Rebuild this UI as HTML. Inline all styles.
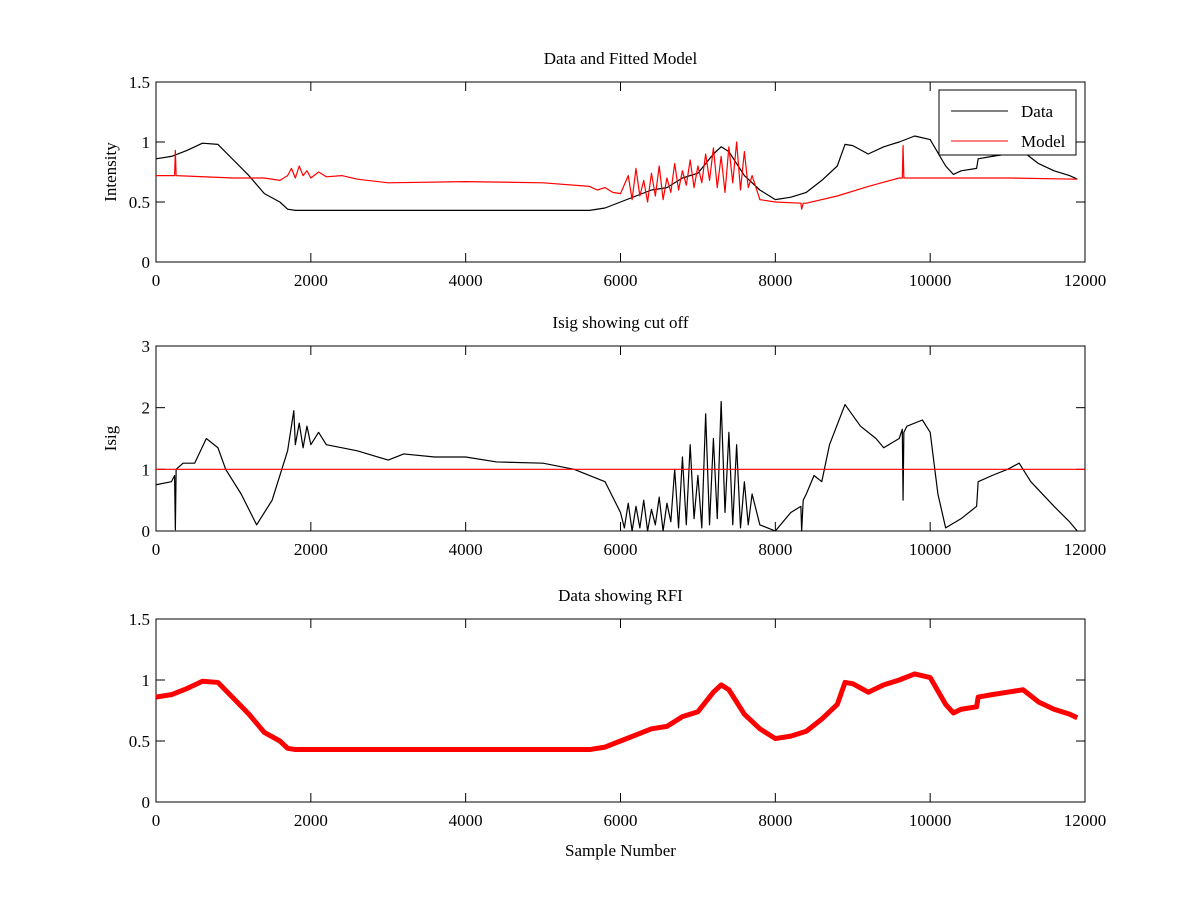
<!DOCTYPE html>
<html><head><meta charset="utf-8"><style>
body{margin:0;background:#fff;width:1200px;height:900px;overflow:hidden}
svg{font-family:"Liberation Serif",serif;}
</style></head><body>
<svg id="chart" width="1200" height="900" xmlns="http://www.w3.org/2000/svg"></svg>
<script>
// ---- data ----
const dataX = [0,200,400,600,800,1000,1200,1400,1600,1700,1800,2000,3000,4000,5000,5600,5800,6000,6200,6400,6600,6800,7000,7200,7300,7400,7600,7800,8000,8200,8400,8600,8800,8900,9000,9200,9400,9600,9800,10000,10200,10300,10400,10600,10620,10800,11000,11200,11400,11600,11800,11900];
const dataY = [0.86,0.88,0.93,0.99,0.98,0.85,0.72,0.57,0.50,0.44,0.43,0.43,0.43,0.43,0.43,0.43,0.45,0.50,0.55,0.60,0.62,0.70,0.74,0.90,0.96,0.92,0.72,0.60,0.52,0.54,0.58,0.68,0.80,0.98,0.97,0.90,0.96,1.00,1.05,1.02,0.80,0.73,0.76,0.78,0.86,0.88,0.90,0.92,0.82,0.76,0.72,0.69];
const modelX = [0,240,250,260,1000,1400,1600,1700,1750,1800,1850,1900,1950,2000,2100,2200,2400,2600,3000,4000,5000,5600,5700,5800,5900,6000,6100,6150,6200,6250,6300,6350,6400,6450,6500,6550,6600,6650,6700,6750,6800,6850,6900,6950,7000,7050,7100,7150,7200,7250,7300,7350,7400,7450,7500,7550,7600,7650,7700,7800,8000,8330,8340,8360,8400,8800,9200,9600,9640,9650,9660,10000,11000,11900];
const modelY = [0.72,0.72,0.93,0.72,0.70,0.70,0.68,0.72,0.78,0.70,0.80,0.72,0.76,0.70,0.75,0.71,0.72,0.69,0.66,0.67,0.66,0.63,0.60,0.62,0.58,0.57,0.72,0.52,0.78,0.55,0.68,0.50,0.74,0.55,0.80,0.52,0.70,0.58,0.82,0.60,0.76,0.64,0.85,0.62,0.80,0.66,0.90,0.68,0.95,0.62,0.88,0.58,0.96,0.66,1.00,0.60,0.92,0.62,0.72,0.52,0.50,0.49,0.44,0.49,0.49,0.55,0.63,0.70,0.70,0.97,0.70,0.70,0.70,0.69];
const isigX = [0,200,240,250,260,350,500,650,800,900,1100,1300,1500,1700,1780,1800,1850,1900,1950,2000,2100,2200,2600,3000,3200,3600,4000,4400,5000,5400,5800,6000,6050,6100,6150,6200,6250,6300,6350,6400,6450,6500,6550,6600,6650,6700,6750,6800,6850,6900,6950,7000,7050,7100,7150,7200,7250,7300,7350,7400,7450,7500,7550,7600,7650,7700,7800,8000,8200,8330,8340,8360,8400,8500,8600,8700,8900,9100,9300,9400,9600,9640,9650,9660,9700,9900,10000,10100,10200,10400,10600,10620,10800,11000,11150,11300,11600,11800,11900];
const isigY = [0.75,0.80,0.90,0.02,1.0,1.10,1.10,1.50,1.35,1.00,0.60,0.10,0.50,1.30,1.95,1.40,1.75,1.35,1.70,1.40,1.60,1.40,1.30,1.15,1.25,1.20,1.20,1.12,1.10,1.00,0.80,0.30,0.05,0.45,0.0,0.40,0.05,0.50,0.0,0.35,0.10,0.55,0.0,0.45,0.15,1.00,0.05,1.20,0.10,1.40,0.20,0.90,0.05,1.90,0.10,1.50,0.20,2.10,0.30,1.60,0.10,1.40,0.05,0.80,0.10,0.60,0.10,0.00,0.30,0.40,0.00,0.50,0.60,0.90,0.80,1.40,2.05,1.70,1.50,1.35,1.50,1.65,0.50,1.60,1.70,1.80,1.60,0.60,0.05,0.20,0.40,0.80,0.90,1.00,1.10,0.80,0.40,0.15,0.00];
const xTicks = [0,2000,4000,6000,8000,10000,12000];
const yTicks1 = [0,0.5,1,1.5];
const yTicks2 = [0,1,2,3];
const yTicks3 = [0,0.5,1,1.5];
const cutoff = 1;

const NS="http://www.w3.org/2000/svg";
const svg=document.getElementById('chart');
function mk(tag,attrs,parent){const e=document.createElementNS(NS,tag);for(const k in attrs)e.setAttribute(k,attrs[k]);(parent||svg).appendChild(e);return e;}
const L=156,R=1085;
function sx(v){return L+(v/12000)*(R-L);}
function makeAxes(name,top,bot,ymax,yticks,title,ylabel,xlabel){
  const g=mk('g',{});
  
  
  const sy=v=>bot-(v/ymax)*(bot-top);
  mk('rect',{x:L,y:top,width:R-L,height:bot-top,fill:'#fff',stroke:'#000','stroke-width':1},g);
  xTicks.forEach(t=>{const x=sx(t);
    mk('line',{x1:x,x2:x,y1:bot,y2:bot-9,stroke:'#000'},g);
    mk('line',{x1:x,x2:x,y1:top,y2:top+9,stroke:'#000'},g);
    const tx=mk('text',{x:x,y:bot+24,'text-anchor':'middle','font-size':17},g);tx.textContent=t;
    });
  yticks.forEach(t=>{const y=sy(t);
    mk('line',{x1:L,x2:L+9,y1:y,y2:y,stroke:'#000'},g);
    mk('line',{x1:R,x2:R-9,y1:y,y2:y,stroke:'#000'},g);
    const tx=mk('text',{x:L-6,y:y+6,'text-anchor':'end','font-size':17},g);tx.textContent=t;
    });
  const tt=mk('text',{x:(L+R)/2,y:top-18,'text-anchor':'middle','font-size':17},g);tt.textContent=title;
  
  const yl=mk('text',{x:0,y:0,'text-anchor':'middle','font-size':17,transform:`translate(116,${(top+bot)/2}) rotate(-90)`},g);yl.textContent=ylabel;
  
  if(xlabel){const xl=mk('text',{x:(L+R)/2,y:bot+54,'text-anchor':'middle','font-size':17},g);xl.textContent=xlabel;
    }
  return {g,sy};
}
function line(g,xs,ys,sy,color,w,name){
  const p=mk('polyline',{points:xs.map((x,i)=>sx(x)+','+sy(ys[i])).join(' '),fill:'none',stroke:color,'stroke-width':w,'stroke-linejoin':'round'},g);
  
  
}
const a1=makeAxes('top-axes',82,262,1.5,yTicks1,'Data and Fitted Model','Intensity');
line(a1.g,dataX,dataY,a1.sy,'#000',1.2,'data-line');
line(a1.g,modelX,modelY,a1.sy,'#f00',1.2,'model-line');
const lg=mk('g',{});


mk('rect',{x:939,y:90,width:137,height:65,fill:'#fff',stroke:'#000'},lg);
mk('line',{x1:951,x2:1008,y1:111,y2:111,stroke:'#000'},lg);
mk('line',{x1:951,x2:1008,y1:141,y2:141,stroke:'#f00'},lg);
let t=mk('text',{x:1021,y:117,'font-size':17},lg);t.textContent='Data';
t=mk('text',{x:1021,y:147,'font-size':17},lg);t.textContent='Model';
const a2=makeAxes('middle-axes',346,531,3,yTicks2,'Isig showing cut off','Isig');
line(a2.g,isigX,isigY,a2.sy,'#000',1.2,'isig-line');
line(a2.g,[0,12000],[cutoff,cutoff],a2.sy,'#f00',1.2,'cutoff-line');
const a3=makeAxes('bottom-axes',619,802,1.5,yTicks3,'Data showing RFI','','Sample Number');
line(a3.g,dataX,dataY,a3.sy,'#f00',5,'rfi-data-line');
</script>
</body></html>
